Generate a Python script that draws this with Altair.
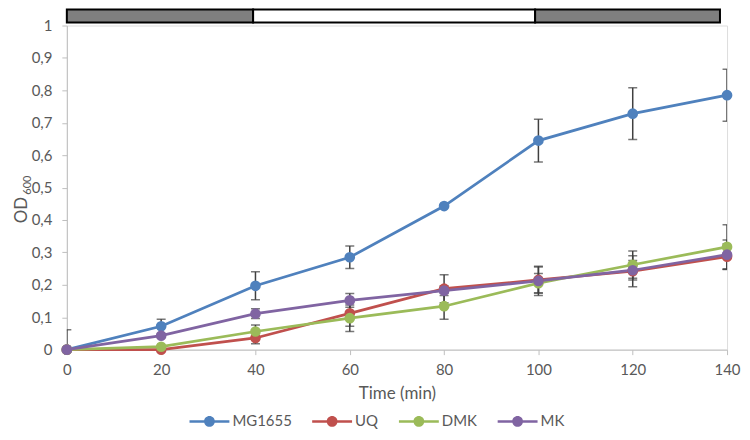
import altair as alt
import pandas as pd

times = [0, 20, 40, 60, 80, 100, 120, 140]
series = ["MG1655", "UQ", "DMK", "MK"]
colors = ["#4f81bd", "#c0504d", "#9bbb59", "#8064a2"]

mg1655 = [0.0, 0.072, 0.197, 0.285, 0.443, 0.645, 0.728, 0.785]
mg1655_err = [0.061, 0.022, 0.043, 0.035, 0.0, 0.066, 0.08, 0.08]
uq = [0.0, 0.0, 0.036, 0.112, 0.188, 0.215, 0.242, 0.287]
uq_err = [0.0, 0.0, 0.018, 0.04, 0.043, 0.04, 0.048, 0.04]
dmk = [0.0, 0.009, 0.056, 0.097, 0.134, 0.205, 0.262, 0.317]
dmk_err = [0.0, 0.0, 0.02, 0.041, 0.04, 0.03, 0.042, 0.068]
mk = [0.0, 0.043, 0.111, 0.152, 0.182, 0.212, 0.245, 0.293]
mk_err = [0.0, 0.0, 0.015, 0.021, 0.015, 0.045, 0.03, 0.045]

phase_start = [0, 39.5, 99.3]
phase_end = [39.5, 99.3, 138.5]
phase_fill = ["#7f7f7f", "#ffffff", "#7f7f7f"]

y_ticks = [0, 0.1, 0.2, 0.3, 0.4, 0.5, 0.6, 0.7, 0.8, 0.9, 1]
x_ticks = [0, 20, 40, 60, 80, 100, 120, 140]

rows = []
for name, vals, errs in [("MG1655", mg1655, mg1655_err), ("UQ", uq, uq_err),
                         ("DMK", dmk, dmk_err), ("MK", mk, mk_err)]:
    for t, v, e in zip(times, vals, errs):
        rows.append({"series": name, "order": series.index(name), "time": t,
                     "od": v, "lo": v - e, "hi": v + e})
df = pd.DataFrame(rows)

phases = pd.DataFrame({"x": phase_start, "x2": phase_end, "fill": phase_fill})

FONT = "Lato"
GREY = "#595959"

xscale = alt.Scale(domain=[0, 140], nice=False, zero=False)
yscale = alt.Scale(domain=[0, 1], nice=False)
cscale = alt.Scale(domain=series, range=colors)

x_axis = alt.Axis(values=x_ticks, title="Time (min)", grid=False, domainColor="#bfbfbf",
                  tickColor="#bfbfbf", tickSize=5, labelFont=FONT, labelFontSize=15,
                  labelColor=GREY, labelPadding=8, labelOverlap=False, labelFlush=False,
                  titleFont=FONT, titleFontSize=17,
                  titleFontWeight="normal", titleColor=GREY, titlePadding=8)
y_axis = alt.Axis(values=y_ticks, format="~g", labelExpr="replace(datum.label, '.', ',')",
                  title=None, grid=False, domainColor="#bfbfbf", tickColor="#bfbfbf",
                  tickSize=5, labelFont=FONT, labelFontSize=15, labelColor=GREY,
                  labelPadding=10, labelOverlap=False, labelFlush=False)

legend = alt.Legend(title=None, orient="none", direction="horizontal",
                    legendX=123, legendY=377,
                    symbolType=("M-1,-0.065L1,-0.065L1,0.065L-1,0.065Z "
                                "M0.27,0A0.27,0.27,0,1,1,-0.27,0A0.27,0.27,0,1,1,0.27,0Z"),
                    symbolSize=1600, symbolStrokeWidth=0, symbolOpacity=1,
                    labelFont=FONT, labelFontSize=15, labelColor=GREY,
                    labelOffset=3, columnPadding=20)

base = alt.Chart(df)

err_rule = base.mark_rule(color="#404040", strokeWidth=1.5, clip=True).encode(
    x=alt.X("time:Q", scale=xscale, axis=x_axis),
    y=alt.Y("lo:Q", scale=yscale, axis=y_axis),
    y2="hi:Q",
)
err_top = base.mark_tick(color="#404040", thickness=1.5, size=9, orient="horizontal", clip=True).encode(
    x=alt.X("time:Q", scale=xscale, axis=x_axis), y=alt.Y("hi:Q", scale=yscale, axis=y_axis))
err_bot = base.mark_tick(color="#404040", thickness=1.5, size=9, orient="horizontal", clip=True).encode(
    x=alt.X("time:Q", scale=xscale, axis=x_axis), y=alt.Y("lo:Q", scale=yscale, axis=y_axis))

lines = base.mark_line(strokeWidth=2.75).encode(
    x=alt.X("time:Q", scale=xscale, axis=x_axis),
    y=alt.Y("od:Q", scale=yscale, axis=y_axis),
    color=alt.Color("series:N", scale=cscale, sort=series, legend=legend),
    detail="series:N",
    order="time:Q",
)

points = base.mark_circle(size=115, opacity=1).encode(
    x=alt.X("time:Q", scale=xscale, axis=x_axis),
    y=alt.Y("od:Q", scale=yscale, axis=y_axis),
    color=alt.Color("series:N", scale=cscale, sort=series, legend=legend),
    order="order:Q",
)

bar = alt.Chart(phases).mark_rect(stroke="#000000", strokeWidth=2).encode(
    x=alt.X("x:Q", scale=xscale, axis=x_axis),
    x2="x2:Q",
    y=alt.value(-16),
    y2=alt.value(-3),
    fill=alt.Fill("fill:N", scale=None),
)

ylab = pd.DataFrame({"t": ["OD"]})
ysub = pd.DataFrame({"t": ["600"]})
od_text = alt.Chart(ylab).mark_text(angle=270, font=FONT, fontSize=17, color=GREY,
                                    align="center", baseline="middle").encode(
    text="t:N", x=alt.value(-45), y=alt.value(185))
sub_text = alt.Chart(ysub).mark_text(angle=270, font=FONT, fontSize=11, color=GREY,
                                     align="center", baseline="middle").encode(
    text="t:N", x=alt.value(-39), y=alt.value(160))

chart = alt.layer(err_rule, err_top, err_bot, lines, points, bar, od_text, sub_text).properties(
    width=662, height=325,
    padding={"left": 59, "top": 17, "right": 15, "bottom": 80},
    autosize=alt.AutoSizeParams(type="none"),
).configure_view(stroke=None).configure_axis(labelOverlap=False).configure(background="white")

chart.save("out.html", embed_options={"renderer": "svg", "actions": False})
